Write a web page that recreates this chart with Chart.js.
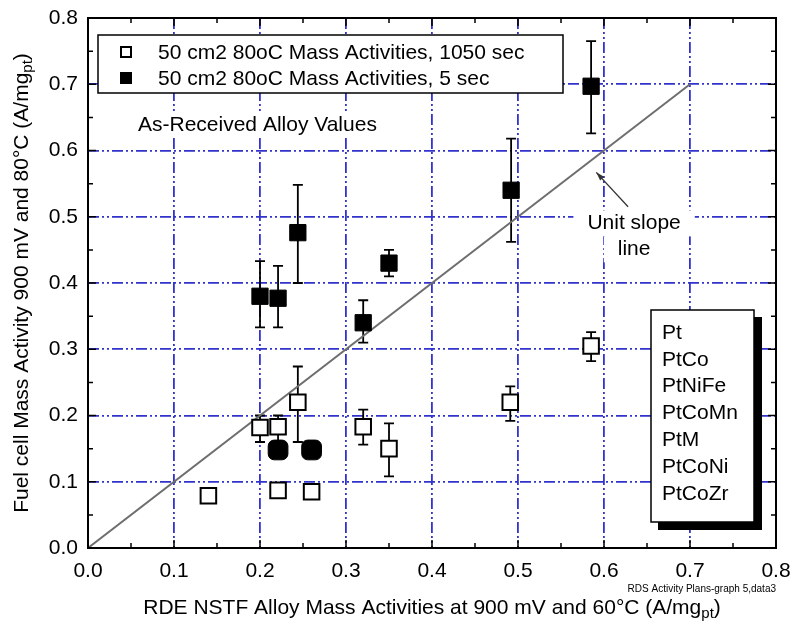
<!DOCTYPE html>
<html>
<head>
<meta charset="utf-8">
<script src="https://cdn.jsdelivr.net/npm/chart.js@4.4.1/dist/chart.umd.min.js"></script>
<style>
  html, body { margin: 0; padding: 0; background: #fff; }
  #wrap { width: 793px; height: 623px; }
</style>
</head>
<body>
<div id="wrap"><canvas id="massChart" width="793" height="623"></canvas></div>
<script>
// 50 cm2 80oC, 1050 sec (open squares)
const longX = [0.14, 0.20, 0.221, 0.244, 0.32, 0.35, 0.221, 0.26, 0.491, 0.585];
const longY = [0.079, 0.182, 0.183, 0.22, 0.183, 0.15, 0.087, 0.085, 0.22, 0.305];
const longHi = [null, 0.20, 0.20, 0.274, 0.209, 0.188, null, null, 0.244, 0.326];
const longLo = [null, 0.16, 0.16, 0.16, 0.156, 0.108, null, null, 0.192, 0.282];

// 50 cm2 80oC, 5 sec (filled squares)
const shortX = [0.20, 0.221, 0.244, 0.32, 0.35, 0.492, 0.585, 0.221, 0.26];
const shortY = [0.38, 0.377, 0.476, 0.34, 0.43, 0.54, 0.697, 0.148, 0.148];
const shortHi = [0.433, 0.426, 0.548, 0.374, 0.45, 0.618, 0.765, null, null];
const shortLo = [0.333, 0.333, 0.40, 0.31, 0.41, 0.462, 0.626, null, null];
const shortStyle = ['rect', 'rect', 'rect', 'rect', 'rect', 'rect', 'rect', 'rectRounded', 'rectRounded'];

const unitLineX = [0, 0.7];
const unitLineY = [0, 0.7];

const tickValues = [0, 0.1, 0.2, 0.3, 0.4, 0.5, 0.6, 0.7, 0.8];
const alloys = ['Pt', 'PtCo', 'PtNiFe', 'PtCoMn', 'PtM', 'PtCoNi', 'PtCoZr'];
const legendLabels = ['50 cm2 80oC Mass Activities, 1050 sec', '50 cm2 80oC Mass Activities, 5 sec'];

const FONT = '"Liberation Sans", Arial, Helvetica, sans-serif';
const GRID_BLUE = 'rgb(50, 50, 205)';

function toPoints(xs, ys) {
    return xs.map((x, i) => ({ x: x, y: ys[i] }));
}

function textBox(ctx, text, x, y, pad) {
    const w = ctx.measureText(text).width;
    ctx.fillStyle = '#fff';
    ctx.fillRect(x - w / 2 - pad, y - 13, w + pad * 2, 26);
    ctx.fillStyle = '#000';
    ctx.fillText(text, x, y);
}

function drawWithSub(ctx, main, sub, tail, x, y, size) {
    // centred text with a subscript part
    ctx.font = size + 'px ' + FONT;
    const w1 = ctx.measureText(main).width;
    const w3 = ctx.measureText(tail).width;
    ctx.font = Math.round(size * 0.7) + 'px ' + FONT;
    const w2 = ctx.measureText(sub).width;
    let left = x - (w1 + w2 + w3) / 2;
    ctx.textAlign = 'left';
    ctx.textBaseline = 'middle';
    ctx.font = size + 'px ' + FONT;
    ctx.fillText(main, left, y);
    ctx.font = Math.round(size * 0.7) + 'px ' + FONT;
    ctx.fillText(sub, left + w1, y + size * 0.3);
    ctx.font = size + 'px ' + FONT;
    ctx.fillText(tail, left + w1 + w2, y);
}

const overlay = {
    id: 'overlay',
    beforeDatasetsDraw(chart) {
        // error bars under the markers
        const ctx = chart.ctx;
        const xs = chart.scales.x, ys = chart.scales.y;
        const sets = [[longX, longHi, longLo], [shortX, shortHi, shortLo]];
        ctx.save();
        ctx.strokeStyle = '#000';
        ctx.lineWidth = 1.8;
        sets.forEach(([xv, hi, lo]) => {
            xv.forEach((x, i) => {
                if (hi[i] == null) return;
                const px = xs.getPixelForValue(x);
                const top = ys.getPixelForValue(hi[i]);
                const bot = ys.getPixelForValue(lo[i]);
                ctx.beginPath();
                ctx.moveTo(px, top); ctx.lineTo(px, bot);
                ctx.moveTo(px - 5, top); ctx.lineTo(px + 5, top);
                ctx.moveTo(px - 5, bot); ctx.lineTo(px + 5, bot);
                ctx.stroke();
            });
        });
        ctx.restore();
    },
    afterDraw(chart) {
        const ctx = chart.ctx;
        const a = chart.chartArea;
        const xs = chart.scales.x, ys = chart.scales.y;
        ctx.save();

        // frame and inward ticks on all sides
        ctx.strokeStyle = '#000';
        ctx.lineWidth = 2;
        ctx.strokeRect(a.left, a.top, a.right - a.left, a.bottom - a.top);
        ctx.lineWidth = 1.5;
        ctx.beginPath();
        for (let k = 0; k <= 16; k++) {
            const v = k * 0.05;
            const len = k % 2 === 0 ? 8 : 5;
            const px = xs.getPixelForValue(v);
            const py = ys.getPixelForValue(v);
            ctx.moveTo(px, a.bottom); ctx.lineTo(px, a.bottom - len);
            ctx.moveTo(px, a.top); ctx.lineTo(px, a.top + len);
            ctx.moveTo(a.left, py); ctx.lineTo(a.left + len, py);
            ctx.moveTo(a.right, py); ctx.lineTo(a.right - len, py);
        }
        ctx.stroke();

        // legend box
        const lx = a.left + 10, ly = a.top + 17;
        ctx.fillStyle = '#fff';
        ctx.fillRect(lx, ly, 465, 58);
        ctx.lineWidth = 1.5;
        ctx.strokeRect(lx, ly, 465, 58);
        ctx.font = '21px ' + FONT;
        ctx.textAlign = 'left';
        ctx.textBaseline = 'middle';
        legendLabels.forEach((label, i) => {
            const cy = ly + 17 + i * 26;
            if (i === 0) {
                ctx.fillStyle = '#fff';
                ctx.fillRect(lx + 23, cy - 5, 10, 10);
                ctx.lineWidth = 2;
                ctx.strokeRect(lx + 23, cy - 5, 10, 10);
            } else {
                ctx.fillStyle = '#000';
                ctx.fillRect(lx + 22, cy - 6, 12, 12);
            }
            ctx.fillStyle = '#000';
            ctx.fillText(label, lx + 60, cy + 1);
        });

        // "As-Received" label
        ctx.font = '21px ' + FONT;
        const t = 'As-Received Alloy Values';
        const tw = ctx.measureText(t).width;
        ctx.fillStyle = '#fff';
        ctx.fillRect(a.left + 47, 111, tw + 6, 26);
        ctx.fillStyle = '#000';
        ctx.fillText(t, a.left + 50, 125);

        // unit slope annotation
        ctx.textAlign = 'center';
        const ux = xs.getPixelForValue(0.635);
        const uy = ys.getPixelForValue(0.49);
        textBox(ctx, 'Unit slope', ux, uy, 14);
        textBox(ctx, 'line', ux, uy + 26, 14);
        const hx = xs.getPixelForValue(0.591), hy = ys.getPixelForValue(0.567);
        const tx = xs.getPixelForValue(0.628), ty = ys.getPixelForValue(0.515);
        ctx.strokeStyle = '#333';
        ctx.lineWidth = 1.3;
        ctx.beginPath(); ctx.moveTo(tx, ty); ctx.lineTo(hx, hy); ctx.stroke();
        const ang = Math.atan2(hy - ty, hx - tx);
        ctx.fillStyle = '#333';
        ctx.beginPath();
        ctx.moveTo(hx, hy);
        ctx.lineTo(hx - 9 * Math.cos(ang - 0.3), hy - 9 * Math.sin(ang - 0.3));
        ctx.lineTo(hx - 9 * Math.cos(ang + 0.3), hy - 9 * Math.sin(ang + 0.3));
        ctx.closePath(); ctx.fill();

        // alloy list box with shadow
        const bx = 651, by = 310, bw = 103, bh = 212;
        ctx.fillStyle = '#000';
        ctx.fillRect(bx + 7, by + 7, bw + 1, bh + 1);
        ctx.fillStyle = '#fff';
        ctx.fillRect(bx, by, bw, bh);
        ctx.strokeStyle = '#000';
        ctx.lineWidth = 1.5;
        ctx.strokeRect(bx, by, bw, bh);
        ctx.fillStyle = '#000';
        ctx.textAlign = 'left';
        ctx.font = '21px ' + FONT;
        alloys.forEach((name, i) => ctx.fillText(name, bx + 11, by + 23 + i * 26.8));

        // small source note
        ctx.font = '10px "Liberation Sans Narrow", ' + FONT;
        ctx.textAlign = 'right';
        ctx.fillText('RDS Activity Plans-graph 5,data3', a.right, 589);

        // axis titles
        ctx.fillStyle = '#000';
        drawWithSub(ctx, 'RDE NSTF Alloy Mass Activities at 900 mV and 60\u00B0C (A/mg', 'pt', ')',
            (a.left + a.right) / 2, 608, 21);
        ctx.translate(22, (a.top + a.bottom) / 2);
        ctx.rotate(-Math.PI / 2);
        drawWithSub(ctx, 'Fuel cell Mass Activity 900 mV and 80\u00B0C (A/mg', 'pt', ')', 0, 0, 21);
        ctx.restore();
    }
};

const ctx = document.getElementById('massChart').getContext('2d');
new Chart(ctx, {
    type: 'scatter',
    data: {
        datasets: [{
            label: legendLabels[0],
            data: toPoints(longX, longY),
            pointStyle: 'rect',
            pointRadius: 11,
            pointBorderWidth: 2,
            pointBackgroundColor: '#fff',
            pointBorderColor: '#000',
            order: 0
        }, {
            label: legendLabels[1],
            data: toPoints(shortX, shortY),
            pointStyle: shortStyle,
            pointRadius: 11.5,
            pointBorderWidth: 1,
            pointBackgroundColor: '#000',
            pointBorderColor: '#000',
            order: 1
        }, {
            label: 'Unit slope line',
            type: 'line',
            data: toPoints(unitLineX, unitLineY),
            borderColor: 'rgb(110, 110, 110)',
            borderWidth: 2,
            pointRadius: 0,
            fill: false,
            order: 2
        }]
    },
    options: {
        responsive: false,
        animation: false,
        layout: { padding: { top: 18, right: 17, left: 0, bottom: 0 } },
        plugins: {
            legend: { display: false },
            tooltip: { enabled: false }
        },
        scales: {
            x: {
                type: 'linear',
                min: 0,
                max: 0.8,
                afterFit: s => { s.height = 75; s.paddingLeft = 0; s.paddingRight = 0; },
                afterBuildTicks: s => { s.ticks = tickValues.map(v => ({ value: v })); },
                ticks: {
                    padding: 11,
                    color: '#000',
                    font: { family: FONT, size: 21 },
                    callback: v => v.toFixed(1)
                },
                grid: { color: GRID_BLUE, lineWidth: 1.8, drawTicks: false },
                border: { display: false, dash: [11, 3, 2, 3, 2, 3] }
            },
            y: {
                type: 'linear',
                min: 0,
                max: 0.8,
                afterFit: s => { s.width = 88; s.paddingTop = 0; s.paddingBottom = 0; },
                afterBuildTicks: s => { s.ticks = tickValues.map(v => ({ value: v })); },
                ticks: {
                    padding: 10,
                    color: '#000',
                    font: { family: FONT, size: 21 },
                    callback: v => v.toFixed(1)
                },
                grid: { color: GRID_BLUE, lineWidth: 1.8, drawTicks: false },
                border: { display: false, dash: [11, 3, 2, 3, 2, 3] }
            }
        }
    },
    plugins: [overlay]
});
</script>
</body>
</html>
